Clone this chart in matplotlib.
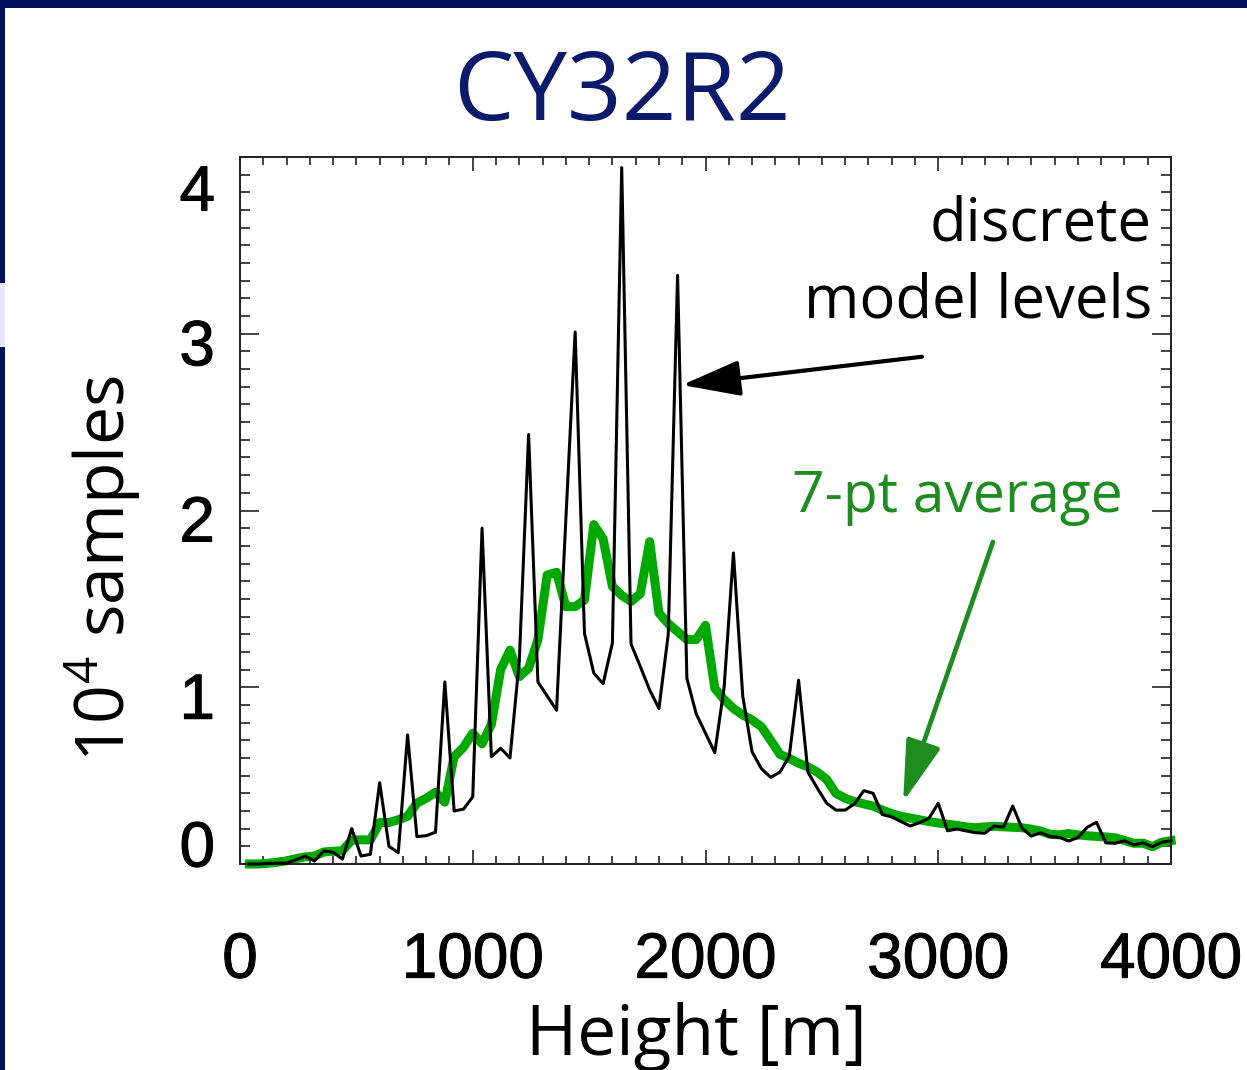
import matplotlib
matplotlib.use("Agg")
import matplotlib.pyplot as plt
import matplotlib.patheffects as pe
from matplotlib.patches import Rectangle
from matplotlib.transforms import ScaledTranslation
from matplotlib.ticker import MultipleLocator

plt.rcParams['mathtext.fontset'] = 'custom'
plt.rcParams['mathtext.rm'] = 'Open Sans'

# ---------------- data ----------------
heights = list(range(40, 4001, 40))   # bin heights [m]

discrete_levels = [
    0.0, 0.0, 0.003, 0.005, 0.005, 0.023, 0.045, 0.017, 0.074, 0.066,
    0.028, 0.20, 0.045, 0.055, 0.46, 0.10, 0.064, 0.73, 0.155, 0.16,
    0.18, 1.03, 0.30, 0.31, 0.38, 1.90, 0.607, 0.655, 0.60, 1.15,
    2.43, 1.03, 0.95, 0.87, 1.95, 3.01, 1.305, 1.08, 1.02, 1.25,
    3.94, 1.245, 1.117, 0.985, 0.88, 1.30, 3.33, 1.05, 0.85, 0.74,
    0.63, 1.00, 1.76, 0.95, 0.635, 0.54, 0.49, 0.52, 0.61, 1.04,
    0.52, 0.43, 0.345, 0.305, 0.305, 0.34, 0.415, 0.40, 0.28, 0.266,
    0.24, 0.215, 0.234, 0.259, 0.343, 0.188, 0.198, 0.187, 0.177, 0.174,
    0.215, 0.208, 0.328, 0.202, 0.158, 0.177, 0.155, 0.151, 0.13, 0.149,
    0.208, 0.236, 0.12, 0.117, 0.132, 0.108, 0.12, 0.098, 0.123, 0.132,
]

avg_7pt = [
    0.0, 0.0, 0.004, 0.01, 0.018, 0.03, 0.04, 0.045, 0.068, 0.072,
    0.075, 0.135, 0.137, 0.136, 0.234, 0.235, 0.25, 0.27, 0.344, 0.372,
    0.406, 0.35, 0.607, 0.66, 0.74, 0.68, 0.79, 1.10, 1.21, 1.06,
    1.107, 1.27, 1.635, 1.65, 1.456, 1.456, 1.494, 1.92, 1.84, 1.57,
    1.52, 1.485, 1.53, 1.824, 1.42, 1.36, 1.315, 1.27, 1.27, 1.35,
    0.994, 0.93, 0.88, 0.843, 0.815, 0.777, 0.70, 0.62, 0.598, 0.57,
    0.55, 0.52, 0.48, 0.40, 0.372, 0.353, 0.34, 0.328, 0.305, 0.285,
    0.27, 0.26, 0.25, 0.24, 0.232, 0.225, 0.218, 0.21, 0.205, 0.21,
    0.213, 0.21, 0.208, 0.205, 0.197, 0.186, 0.168, 0.165, 0.172, 0.165,
    0.16, 0.156, 0.153, 0.148, 0.133, 0.117, 0.118, 0.098, 0.123, 0.132,
]

x_ticks = [0, 1000, 2000, 3000, 4000]
x_tick_labels = ["0", "1000", "2000", "3000", "4000"]
y_ticks = [0, 1, 2, 3, 4]
y_tick_labels = ["0", "1", "2", "3", "4"]

title_text = "CY32R2"
xlabel_text = "Height [m]"
ylabel_text = "10$^{\\mathrm{4}}$ samples"

# ---------------- figure ----------------
W, H = 1247, 1070
fig = plt.figure(figsize=(W / 100, H / 100), dpi=100)
fig.patch.set_facecolor("white")

navy = "#000f5c"
# slide frame: top bar and left strip
fig.add_artist(Rectangle((0, 1 - 7.5 / H), 1, 7.5 / H, transform=fig.transFigure,
                         facecolor=navy, edgecolor="none", zorder=0))
fig.add_artist(Rectangle((0, 0), 4.5 / W, (H - 347) / H, transform=fig.transFigure,
                         facecolor=navy, edgecolor="none", zorder=0))
fig.add_artist(Rectangle((0, (H - 347) / H), 4.5 / W, 64 / H, transform=fig.transFigure,
                         facecolor="#e9e9f7", edgecolor="none", zorder=0))
fig.add_artist(Rectangle((0, (H - 283) / H), 4.5 / W, 283 / H, transform=fig.transFigure,
                         facecolor=navy, edgecolor="none", zorder=0))

ax = fig.add_axes([240 / W, 1 - 864 / H, 931 / W, 707 / H])

ax.plot(heights, avg_7pt, color="#00a900", lw=6.5, zorder=2, clip_on=False)
ax.plot(heights, discrete_levels, color="black", lw=2.2, zorder=3, clip_on=False)

ax.set_xlim(0, 4000)
ax.set_ylim(0, 4)

tick_font = dict(family="Liberation Sans", size=46)
ax.set_xticks(x_ticks)
ax.set_xticklabels(x_tick_labels, fontdict=tick_font)
ax.set_yticks(y_ticks)
ax.set_yticklabels(y_tick_labels, fontdict=tick_font)
ax.xaxis.set_minor_locator(MultipleLocator(100))
ax.yaxis.set_minor_locator(MultipleLocator(0.1))

ax.tick_params(which="both", direction="in", top=True, right=True, width=1.2, color="#222222")
ax.tick_params(axis="x", which="major", length=10.3, pad=48)
ax.tick_params(axis="x", which="minor", length=5.5)
ax.tick_params(axis="y", which="major", length=13.5, pad=18)
ax.tick_params(axis="y", which="minor", length=7)
for s in ax.spines.values():
    s.set_linewidth(1.4)
    s.set_color("#222222")

heavy = [pe.withStroke(linewidth=0.7, foreground="black")]
for lab in ax.get_xticklabels():
    lab.set_path_effects(heavy)

# IDL-like label placement offsets (inches, + is up)
y_offsets = [0.21, -0.08, -0.075, -0.08, -0.30]
for lab, dy in zip(ax.get_yticklabels(), y_offsets):
    lab.set_transform(lab.get_transform() + ScaledTranslation(0, dy, fig.dpi_scale_trans))
    lab.set_path_effects(heavy)

# titles / labels
fig.text(622 / W, 1 - 120 / H, title_text, ha="center", va="baseline",
         fontsize=69, color="#0b1a6b", family="Open Sans")
fig.text(696 / W, 1 - 1055 / H, xlabel_text, ha="center", va="baseline",
         fontsize=50, color="black", family="Open Sans")
fig.text(103 / W, 1 - 569 / H, ylabel_text, ha="center", va="center", rotation=90,
         fontsize=49, color="black", family="Open Sans")

# annotations
ax.text(3918, 3.53, "discrete", ha="right", va="baseline", fontsize=43,
        family="Open Sans", color="black")
ax.text(3918, 3.09, "model levels", ha="right", va="baseline", fontsize=43,
        family="Open Sans", color="black")
ax.annotate("", xy=(1899, 2.71), xytext=(2930, 2.87),
            arrowprops=dict(arrowstyle="-|>,head_length=1.8,head_width=0.55",
                            color="black", lw=3, shrinkA=0, shrinkB=0,
                            mutation_scale=20))

green_txt = "#1e8c1e"
ax.text(3794, 1.99, "7-pt average", ha="right", va="baseline", fontsize=41,
        family="Open Sans", color=green_txt)
ax.annotate("", xy=(2849, 0.351), xytext=(3235, 1.822),
            arrowprops=dict(arrowstyle="-|>,head_length=1.9,head_width=0.55",
                            color=green_txt, lw=3.4, shrinkA=0, shrinkB=0,
                            mutation_scale=20))

fig.savefig("out.png", dpi=100, facecolor="white")
